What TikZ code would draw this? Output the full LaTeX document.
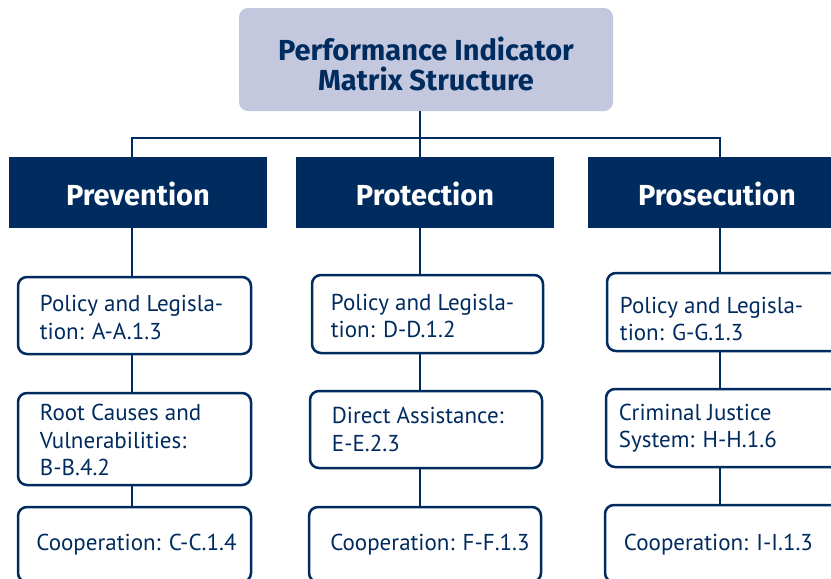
\documentclass[tikz,border=0pt]{standalone}
\usepackage{fontspec}
\setmainfont{PT Sans}
\newfontfamily\headfont{Fira Sans}
\definecolor{navy}{RGB}{0,43,94}
\definecolor{lav}{RGB}{195,200,222}
\begin{document}
\begin{tikzpicture}[x=1pt,y=-1pt,
  conn/.style={draw=navy,line width=2.6pt},
  titlebox/.style={fill=lav,rounded corners=9pt,inner sep=0pt},
  catbox/.style={fill=navy,inner sep=0pt,minimum height=71pt},
  itembox/.style={draw=navy,fill=white,line width=2.5pt,rounded corners=9pt,inner sep=0pt},
  titletxt/.style={font=\headfont\fontsize{29}{29.5}\selectfont\bfseries,text=navy,align=center,inner sep=0pt},
  cattxt/.style={font=\headfont\fontsize{29}{29}\selectfont\bfseries,text=white,inner sep=0pt},
  itemtxt/.style={font=\fontsize{23}{27.5}\selectfont,text=navy,align=left,inner sep=0pt,anchor=west}]
\useasboundingbox (0,0) rectangle (831,579);
\clip (0,0) rectangle (831,579);
% column axes
\coordinate (cx1) at (132,0);
\coordinate (cx2) at (420,0);
\coordinate (cx3) at (720,0);
\coordinate (bus) at (420,138);
% title
\node[titlebox,minimum width=374pt,minimum height=103pt] (title) at (426,59.5) {};
\node[titletxt] (titlet) at (426,64) {Performance Indicator\\Matrix Structure};
% categories
\node[catbox,minimum width=258pt] (prev) at (138,192.5) {};
\node[catbox,minimum width=258pt] (prot) at (425,192.5) {};
\node[catbox,minimum width=258pt] (pros) at (717,192.5) {};
\node[cattxt] (prevt) at (138,194) {Prevention};
\node[cattxt] (prott) at (425,194) {Protection};
\node[cattxt] (prost) at (717,194) {Prosecution};
% prevention column
\node[itembox,minimum width=233pt,minimum height=77pt] (a1) at (134.5,315.5) {};
\node[itembox,minimum width=233pt,minimum height=92pt] (a2) at (134.5,439) {};
\node[itembox,minimum width=233pt,minimum height=75pt] (a3) at (134.5,544.5) {};
% protection column
\node[itembox,minimum width=231pt,minimum height=78pt] (b1) at (427.5,314) {};
\node[itembox,minimum width=232pt,minimum height=77pt] (b2) at (426,429.5) {};
\node[itembox,minimum width=232pt,minimum height=75pt] (b3) at (425,544.5) {};
% prosecution column
\node[itembox,minimum width=238pt,minimum height=78pt] (c1) at (726,312) {};
\node[itembox,minimum width=239pt,minimum height=78pt] (c2) at (725.5,428) {};
\node[itembox,minimum width=240pt,minimum height=77pt] (c3) at (725,543.5) {};
% texts
\node[itemtxt] (a1t) at ([xshift=23pt,yshift=-2pt]a1.west) {Policy and Legisla-\\tion: A-A.1.3};
\node[itemtxt] (a2t) at ([xshift=23pt,yshift=-1pt]a2.west) {Root Causes and\\Vulnerabilities:\\B-B.4.2};
\node[itemtxt,anchor=center] (a3t) at (136.5,545) {Cooperation: C-C.1.4};
\node[itemtxt] (b1t) at ([xshift=20pt,yshift=-2pt]b1.west) {Policy and Legisla-\\tion: D-D.1.2};
\node[itemtxt] (b2t) at ([xshift=23pt,yshift=0pt]b2.west) {Direct Assistance:\\E-E.2.3};
\node[itemtxt,anchor=center] (b3t) at (430,545) {Cooperation: F-F.1.3};
\node[itemtxt] (c1t) at ([xshift=14pt,yshift=-7pt]c1.west) {Policy and Legisla-\\tion: G-G.1.3};
\node[itemtxt] (c2t) at ([xshift=14pt,yshift=0pt]c2.west) {Criminal Justice\\System: H-H.1.6};
\node[itemtxt,anchor=center] (c3t) at (718.5,545) {Cooperation: I-I.1.3};
% connectors
\draw[conn] (title.south -| bus) -- (bus |- prot.north);
\draw[conn] (cx1 |- prev.north) -- (cx1 |- bus) -- (cx3 |- bus) -- (cx3 |- pros.north);
\draw[conn] (cx1 |- prev.south) -- (cx1 |- a1.north);
\draw[conn] (cx1 |- a1.south) -- (cx1 |- a2.north);
\draw[conn] (cx1 |- a2.south) -- (cx1 |- a3.north);
\draw[conn] (cx2 |- prot.south) -- (cx2 |- b1.north);
\draw[conn] (cx2 |- b1.south) -- (cx2 |- b2.north);
\draw[conn] (cx2 |- b2.south) -- (cx2 |- b3.north);
\draw[conn] (cx3 |- pros.south) -- (cx3 |- c1.north);
\draw[conn] (cx3 |- c1.south) -- (cx3 |- c2.north);
\draw[conn] (cx3 |- c2.south) -- (cx3 |- c3.north);
\end{tikzpicture}
\end{document}
